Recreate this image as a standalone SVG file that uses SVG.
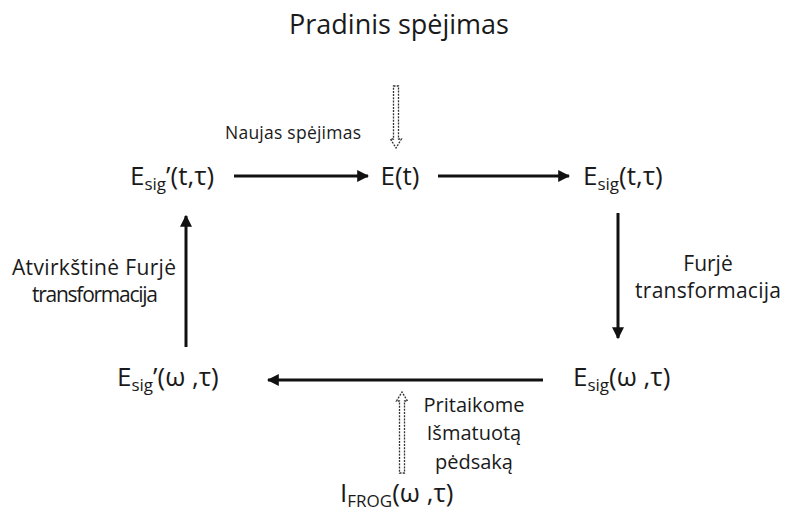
<svg xmlns="http://www.w3.org/2000/svg" width="788" height="516" viewBox="0 0 788 516">
<style>
text{font-family:"Open Sans","Liberation Sans",sans-serif;fill:#1a1a1a}
.big{font-size:27px}
.lab{font-size:26px}
.sub{font-size:17px}
.small{font-size:17.5px}
.mid{font-size:21px}
.mid2{font-size:20px}
.conn{stroke:#111;stroke-width:3;fill:none}
.dash{stroke:#333;stroke-width:1.3;stroke-dasharray:2 1.2;fill:#fff}
</style>
<defs>
<marker id="ah" viewBox="0 0 10 10" refX="9" refY="5" markerWidth="4" markerHeight="4" orient="auto" markerUnits="strokeWidth">
<path d="M0,0 L10,5 L0,10 z" fill="#111"/>
</marker>
</defs>
<rect width="788" height="516" fill="#fff"/>
<g id="connectors">
<line class="conn" x1="234" y1="176" x2="368" y2="176" marker-end="url(#ah)"/>
<line class="conn" x1="438" y1="176" x2="569" y2="176" marker-end="url(#ah)"/>
<line class="conn" x1="618" y1="213" x2="618" y2="338" marker-end="url(#ah)"/>
<line class="conn" x1="543" y1="380" x2="268" y2="380" marker-end="url(#ah)"/>
<line class="conn" x1="186" y1="347" x2="186" y2="216" marker-end="url(#ah)"/>
<path class="dash" d="M393.5,86 L398.5,86 L398.5,139 L401.5,139 L396,148 L390.5,139 L393.5,139 Z"/>
<path class="dash" d="M399.5,473 L404.5,473 L404.5,401 L407.5,401 L402,392 L396.5,401 L399.5,401 Z"/>
</g>
<g id="title"><text class="big" x="399" y="34" text-anchor="middle">Pradinis spėjimas</text></g>
<g id="label-naujas"><text class="small" x="225" y="139" textLength="136">Naujas spėjimas</text></g>
<g id="node-Et"><text class="lab" x="400" y="185" text-anchor="middle">E(t)</text></g>
<g id="node-Esig-prime-t"><text class="lab" x="130" y="185">E<tspan class="sub" dy="5">sig</tspan><tspan dy="-5">’(t,τ)</tspan></text></g>
<g id="node-Esig-t"><text class="lab" x="583" y="185">E<tspan class="sub" dy="5">sig</tspan><tspan dy="-5">(t,τ)</tspan></text></g>
<g id="label-furje"><text class="mid" x="708" y="271" text-anchor="middle">Furjė</text><text class="mid" x="635" y="298" textLength="146">transformacija</text></g>
<g id="label-atv"><text class="mid" x="12" y="275" textLength="164">Atvirkštinė Furjė</text><text class="mid" x="32" y="302" textLength="126">transformacija</text></g>
<g id="node-Esig-prime-w"><text class="lab" x="117" y="386">E<tspan class="sub" dy="5">sig</tspan><tspan dy="-5">’(ω ,τ)</tspan></text></g>
<g id="node-Esig-w"><text class="lab" x="573" y="386">E<tspan class="sub" dy="5">sig</tspan><tspan dy="-5">(ω ,τ)</tspan></text></g>
<g id="label-prit"><text class="mid2" x="474" y="412" text-anchor="middle">Pritaikome</text><text class="mid2" x="474" y="440" text-anchor="middle">Išmatuotą</text><text class="mid2" x="474" y="469" text-anchor="middle">pėdsaką</text></g>
<g id="node-IFROG"><text class="lab" x="340" y="502">I<tspan class="sub" dy="5">FROG</tspan><tspan dy="-5">(ω ,τ)</tspan></text></g>
</svg>
